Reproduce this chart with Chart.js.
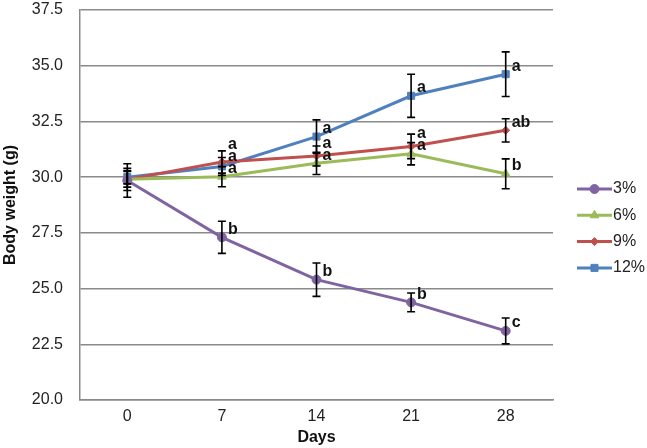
<!DOCTYPE html>
<html lang="en">
<head>
<meta charset="UTF-8">
<title>Body weight</title>
<script src="https://cdn.jsdelivr.net/npm/chart.js"></script>
<style>
  html, body { margin: 0; padding: 0; background: #fff; }
  #wrap { width: 647px; height: 448px; }
</style>
</head>
<body>
<div id="wrap"><canvas id="myChart" width="647" height="448"></canvas></div>
<script>
// data
const days = ['0', '7', '14', '21', '28'];
const seriesNames = ['3%', '6%', '9%', '12%'];

const w3 = [29.85, 27.3, 25.4, 24.38, 23.1];
const w6 = [29.9, 30.02, 30.62, 31.05, 30.15];
const w9 = [29.9, 30.68, 30.95, 31.38, 32.1];
const w12 = [30.0, 30.48, 31.82, 33.65, 34.62];

const err3 = [0.75, 0.72, 0.75, 0.42, 0.58];
const err6 = [0.35, 0.45, 0.5, 0.5, 0.67];
const err9 = [0.5, 0.5, 0.45, 0.55, 0.52];
const err12 = [0.3, 0.4, 0.75, 0.97, 1.0];

const letters3 = ['', 'b', 'b', 'b', 'c'];
const letters6 = ['', 'a', 'a', 'a', 'b'];
const letters9 = ['', 'a', 'a', 'a', 'ab'];
const letters12 = ['', 'a', 'a', 'a', 'a'];

const yTicks = [20, 22.5, 25, 27.5, 30, 32.5, 35, 37.5];

const colors = ['#8064a2', '#9bbb59', '#c0504d', '#4f81bd'];
const markers = ['circle', 'triangle', 'rectRot', 'rect'];
const markerSize = [4.5, 5, 4, 5];

const allValues = [w3, w6, w9, w12];
const allErrors = [err3, err6, err9, err12];
const allLetters = [letters3, letters6, letters9, letters12];

const FONT = '"Liberation Sans", Arial, Helvetica, sans-serif';

// error bars + significance letters
const errorBars = {
  id: 'errorBars',
  afterDatasetsDraw(chart) {
    const ctx = chart.ctx;
    const y = chart.scales.y;
    ctx.save();
    ctx.strokeStyle = '#000';
    ctx.lineWidth = 1.6;
    chart.data.datasets.forEach((ds, i) => {
      const meta = chart.getDatasetMeta(i);
      meta.data.forEach((pt, j) => {
        const e = allErrors[i][j];
        const v = allValues[i][j];
        const top = y.getPixelForValue(v + e);
        const bot = y.getPixelForValue(v - e);
        ctx.beginPath();
        ctx.moveTo(pt.x, top); ctx.lineTo(pt.x, bot);
        ctx.moveTo(pt.x - 4, top); ctx.lineTo(pt.x + 4, top);
        ctx.moveTo(pt.x - 4, bot); ctx.lineTo(pt.x + 4, bot);
        ctx.stroke();
      });
    });

    // letters sit just above-right of each point; stacked ones get pushed up
    ctx.fillStyle = '#111';
    ctx.font = 'bold 16px ' + FONT;
    ctx.textBaseline = 'middle';
    ctx.textAlign = 'left';
    days.forEach((d, j) => {
      const items = [];
      chart.data.datasets.forEach((ds, i) => {
        const t = allLetters[i][j];
        const pt = chart.getDatasetMeta(i).data[j];
        if (t) items.push({ t: t, x: pt.x + 6, y: pt.y - 8 });
      });
      items.sort((a, b) => b.y - a.y);
      for (let k = 1; k < items.length; k++) {
        items[k].y = Math.min(items[k].y, items[k - 1].y - 12);
      }
      items.forEach(it => ctx.fillText(it.t, it.x, it.y));
    });
    ctx.restore();
  }
};

// legend: line with marker, to the right of the plot
const sideLegend = {
  id: 'sideLegend',
  afterDraw(chart) {
    const ctx = chart.ctx;
    const x0 = chart.chartArea.right + 24;
    const y0 = 189;
    const step = 26.3;
    ctx.save();
    seriesNames.forEach((name, i) => {
      const yy = y0 + i * step;
      ctx.strokeStyle = colors[i];
      ctx.lineWidth = 3;
      ctx.beginPath();
      ctx.moveTo(x0, yy); ctx.lineTo(x0 + 35, yy);
      ctx.stroke();
      ctx.fillStyle = colors[i];
      ctx.lineWidth = 1;
      Chart.helpers.drawPoint(ctx, {
        pointStyle: markers[i], radius: markerSize[i], borderWidth: 1
      }, x0 + 17.5, yy);
      ctx.fillStyle = '#222';
      ctx.font = '16px ' + FONT;
      ctx.textBaseline = 'middle';
      ctx.textAlign = 'left';
      ctx.fillText(name, x0 + 36, yy);
    });
    ctx.restore();
  }
};

const datasets = seriesNames.map((name, i) => ({
  label: name,
  data: allValues[i],
  borderColor: colors[i],
  backgroundColor: colors[i],
  borderWidth: 3,
  pointStyle: markers[i],
  pointRadius: markerSize[i],
  pointBorderWidth: 1,
  pointBorderColor: colors[i],
  pointBackgroundColor: colors[i],
  tension: 0
}));

const ctx = document.getElementById('myChart').getContext('2d');
const myChart = new Chart(ctx, {
  type: 'line',
  data: { labels: days, datasets: datasets },
  options: {
    responsive: false,
    animation: false,
    layout: { padding: { left: 0, top: 10, right: 94, bottom: 0 } },
    plugins: {
      legend: { display: false },
      tooltip: { enabled: false }
    },
    scales: {
      x: {
        offset: true,
        grid: { display: false, drawTicks: false },
        border: { display: true, color: '#8a8a8a', width: 1.5 },
        ticks: { color: '#222', font: { family: FONT, size: 16 }, padding: 7 },
        title: {
          display: true, text: 'Days', color: '#111',
          font: { family: FONT, size: 16, weight: 'bold' },
          padding: { top: 3, bottom: 1 }
        },
        afterFit(scale) {
          scale.height = 48;
          scale.paddingLeft = 0;
          scale.paddingRight = 0;
        }
      },
      y: {
        min: 20, max: 37.5,
        afterBuildTicks(scale) { scale.ticks = yTicks.map(v => ({ value: v })); },
        grid: { color: '#8a8a8a', lineWidth: 1.5, drawTicks: false },
        border: { display: true, color: '#8a8a8a', width: 1.5 },
        ticks: {
          color: '#222', font: { family: FONT, size: 16 }, padding: 17,
          callback: v => Number(v).toFixed(1)
        },
        title: {
          display: true, text: 'Body weight (g)', color: '#111',
          font: { family: FONT, size: 16, weight: 'bold' },
          padding: { top: 1, bottom: 12 }
        },
        afterFit(scale) {
          scale.width = 80;
          scale.paddingTop = 0;
          scale.paddingBottom = 0;
        }
      }
    }
  },
  plugins: [errorBars, sideLegend]
});
</script>
</body>
</html>
